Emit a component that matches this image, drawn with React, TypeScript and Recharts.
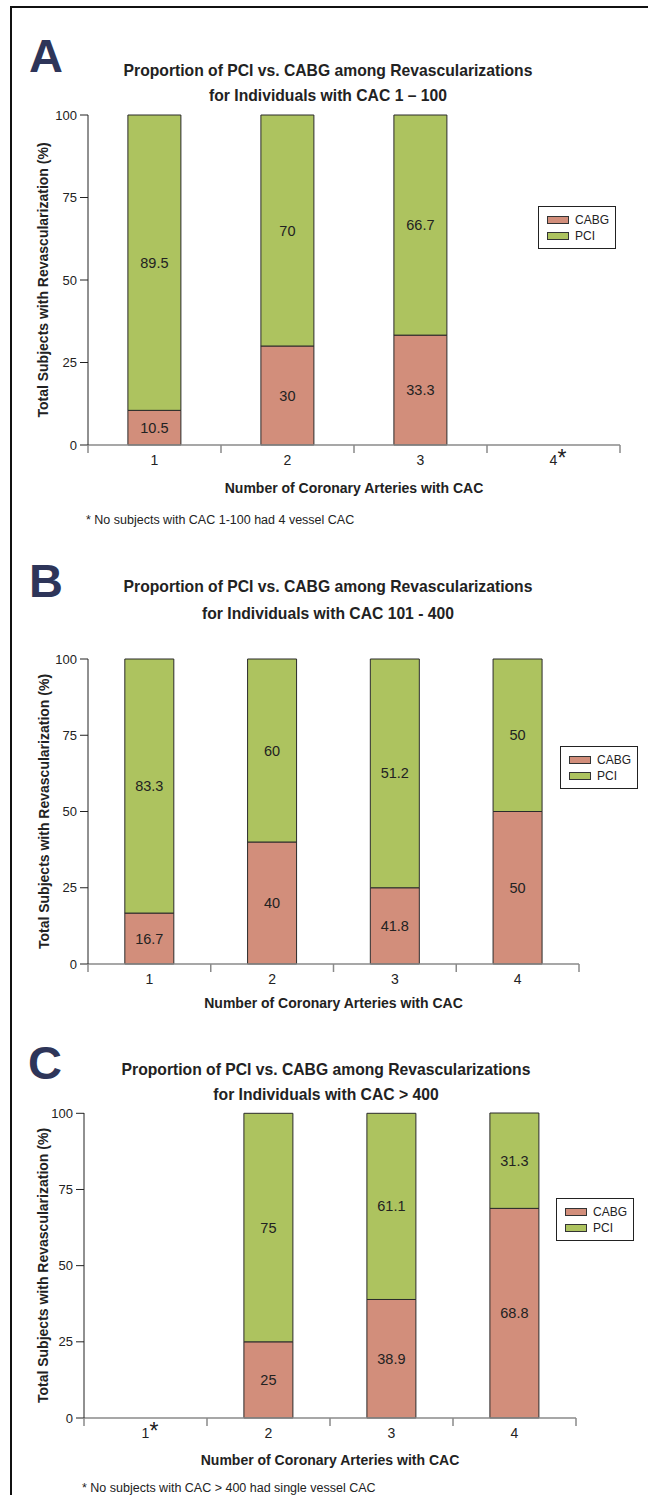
import React from 'react';
import { BarChart, Bar, XAxis, YAxis, Legend, LabelList } from 'recharts';

const vessels = ['1', '2', '3', '4'];
const yTicks = [0, 25, 50, 75, 100];

// A: CAC 1 - 100 (no 4 vessel subjects)
const cabgA = [10.5, 30, 33.3, null];
const pciA = [89.5, 70, 66.7, null];

// B: CAC 101 - 400
// bar 3 is drawn full height with a shorter CABG segment than its printed label
const cabgB = [16.7, 40, 25, 50];
const pciB = [83.3, 60, 75, 50];
const cabgTextB = ['16.7', '40', '41.8', '50'];
const pciTextB = ['83.3', '60', '51.2', '50'];

// C: CAC > 400 (no single vessel subjects)
const cabgC = [null, 25, 38.9, 68.8];
const pciC = [null, 75, 61.1, 31.3];

const CABG_COLOR = '#d28e7b';
const PCI_COLOR = '#adc35f';
const INK = '#222';
const FONT = '"Liberation Sans", Arial, Helvetica, sans-serif';

const buildRows = (
  cabg: (number | null)[],
  pci: (number | null)[],
  cabgText?: string[],
  pciText?: string[]
) =>
  vessels.map((v, i) => ({
    vessel: v,
    CABG: cabg[i],
    PCI: pci[i],
    cabgText: cabgText ? cabgText[i] : cabg[i],
    pciText: pciText ? pciText[i] : pci[i],
  }));

const XTick = (props: any) => {
  const { x, y, payload, index, star, count, half } = props;
  const axisY = y - 10; // tickSize 8 + tickMargin 2
  const h = payload && payload.offset ? payload.offset : half;
  return (
    <g>
      <line x1={x - h} x2={x - h} y1={axisY} y2={axisY + 8} stroke="#8a8a8a" strokeWidth={1.5} />
      {index === count - 1 && (
        <line x1={x + h} x2={x + h} y1={axisY} y2={axisY + 8} stroke="#8a8a8a" strokeWidth={1.5} />
      )}
      <text x={x} y={axisY + 20} textAnchor="middle" fontSize={14} fill={INK} fontFamily={FONT}>
        {payload.value}
      </text>
      {payload.value === star && (
        <text x={x + 4} y={axisY + 21} textAnchor="start" fontSize={23} fill={INK} fontFamily={FONT}>
          *
        </text>
      )}
    </g>
  );
};

const barLabel = (props: any) => {
  const { x, y, width, height, value } = props;
  if (value === null || value === undefined || !height) return null;
  return (
    <text
      x={x + width / 2}
      y={y + height / 2}
      textAnchor="middle"
      dominantBaseline="central"
      fontSize={14.5}
      fill={INK}
      fontFamily={FONT}
    >
      {value}
    </text>
  );
};

const LegendBox = ({ payload }: any) => (
  <div
    style={{
      border: '1px solid #222',
      background: '#fff',
      padding: '5px 6px 4px 8px',
      fontFamily: FONT,
      fontSize: 12,
      color: INK,
    }}
  >
    {(payload || []).map((p: any) => (
      <div key={p.value} style={{ display: 'flex', alignItems: 'center', height: 16 }}>
        <span
          style={{
            display: 'inline-block',
            width: 20,
            height: 6,
            background: p.color,
            border: '1px solid #333',
            marginRight: 6,
          }}
        />
        {p.value}
      </div>
    ))}
  </div>
);

interface PanelProps {
  top: number;
  height: number;
  margin: { top: number; right: number; bottom: number; left: number };
  yWidth: number;
  data: any[];
  star?: string;
  legendLeft: number;
  legendTop: number;
  xLabelOffset: number;
  yLabelX: number;
}

const Panel = ({ top, height, margin, yWidth, data, star, legendLeft, legendTop, xLabelOffset, yLabelX }: PanelProps) => {
  const plotW = 648 - margin.left - yWidth - margin.right;
  const half = plotW / data.length / 2;
  return (
    <div style={{ position: 'absolute', left: 0, top }}>
      <BarChart width={648} height={height} data={data} margin={margin} barCategoryGap="30%">
        <XAxis
          dataKey="vessel"
          axisLine={{ stroke: '#8a8a8a', strokeWidth: 1.5 }}
          tickLine={false}
          tickSize={8}
          tickMargin={2}
          height={50}
          interval={0}
          tick={<XTick star={star} count={data.length} half={half} />}
          label={{
            value: 'Number of Coronary Arteries with CAC',
            position: 'insideBottom',
            offset: xLabelOffset,
            style: { fontWeight: 'bold', fontSize: 14, fill: INK, fontFamily: FONT },
          }}
        />
        <YAxis
          domain={[0, 100]}
          ticks={yTicks}
          interval={0}
          width={yWidth}
          tickSize={8}
          tickMargin={3}
          axisLine={{ stroke: INK }}
          tickLine={{ stroke: INK }}
          tick={{ fontSize: 13, fill: INK, fontFamily: FONT }}
          label={{
            value: 'Total Subjects with Revascularization (%)',
            angle: -90,
            position: 'insideLeft',
            offset: yLabelX - margin.left,
            style: { textAnchor: 'middle', fontWeight: 'bold', fontSize: 14, fill: INK, fontFamily: FONT },
          }}
        />
        <Legend
          layout="vertical"
          align="center"
          verticalAlign="middle"
          content={<LegendBox />}
          wrapperStyle={{ left: legendLeft, top: legendTop - top, width: 'auto' }}
        />
        <Bar dataKey="CABG" stackId="rev" fill={CABG_COLOR} stroke="#2b2b2b" strokeWidth={1} isAnimationActive={false}>
          <LabelList dataKey="cabgText" content={barLabel} />
        </Bar>
        <Bar dataKey="PCI" stackId="rev" fill={PCI_COLOR} stroke="#2b2b2b" strokeWidth={1} isAnimationActive={false}>
          <LabelList dataKey="pciText" content={barLabel} />
        </Bar>
      </BarChart>
    </div>
  );
};

const titleStyle = { fontFamily: FONT, fontWeight: 'bold', fontSize: 15.7, fill: INK } as const;
const letterStyle = { fontFamily: FONT, fontWeight: 'bold', fontSize: 47, fill: '#2e3559' } as const;
const noteStyle = { fontFamily: FONT, fontSize: 12.5, fill: INK } as const;

export default function App() {
  return (
    <div
      style={{
        position: 'absolute',
        left: 0,
        top: 0,
        width: 648,
        height: 1495,
        overflow: 'hidden',
        background: '#fff',
      }}
    >
      <div
        style={{
          position: 'absolute',
          left: 10,
          top: 6,
          width: 700,
          height: 1600,
          borderLeft: '2px solid #111',
          borderTop: '2px solid #111',
        }}
      />

      <Panel
        top={100}
        height={410}
        margin={{ top: 15, right: 28, bottom: 15, left: 20 }}
        yWidth={68}
        data={buildRows(cabgA, pciA)}
        star="4"
        legendLeft={538}
        legendTop={206}
        xLabelOffset={2}
        yLabelX={43}
      />
      <Panel
        top={640}
        height={390}
        margin={{ top: 19, right: 69, bottom: 16, left: 20 }}
        yWidth={68}
        data={buildRows(cabgB, pciB, cabgTextB, pciTextB)}
        legendLeft={560}
        legendTop={746}
        xLabelOffset={6}
        yLabelX={44}
      />
      <Panel
        top={1095}
        height={390}
        margin={{ top: 18, right: 72, bottom: 17, left: 20 }}
        yWidth={64}
        data={buildRows(cabgC, pciC)}
        star="1"
        legendLeft={556}
        legendTop={1198}
        xLabelOffset={3}
        yLabelX={43}
      />

      <svg
        width={648}
        height={1495}
        style={{ position: 'absolute', left: 0, top: 0, pointerEvents: 'none' }}
      >
        <text x={29} y={72} style={letterStyle}>A</text>
        <text x={328} y={75.5} textAnchor="middle" style={titleStyle}>
          Proportion of PCI vs. CABG among Revascularizations
        </text>
        <text x={328} y={100.5} textAnchor="middle" style={titleStyle}>
          for Individuals with CAC 1 – 100
        </text>
        <text x={86} y={523.5} style={noteStyle}>* No subjects with CAC 1-100 had 4 vessel CAC</text>

        <text x={29} y={597} style={letterStyle}>B</text>
        <text x={328} y={591.5} textAnchor="middle" style={titleStyle}>
          Proportion of PCI vs. CABG among Revascularizations
        </text>
        <text x={328} y={618.5} textAnchor="middle" style={titleStyle}>
          for Individuals with CAC 101 - 400
        </text>

        <text x={28} y={1079} style={letterStyle}>C</text>
        <text x={326} y={1074.5} textAnchor="middle" style={titleStyle}>
          Proportion of PCI vs. CABG among Revascularizations
        </text>
        <text x={326} y={1099.5} textAnchor="middle" style={titleStyle}>
          for Individuals with CAC &gt; 400
        </text>
        <text x={82} y={1491.5} style={noteStyle}>* No subjects with CAC &gt; 400 had single vessel CAC</text>
      </svg>
    </div>
  );
}
